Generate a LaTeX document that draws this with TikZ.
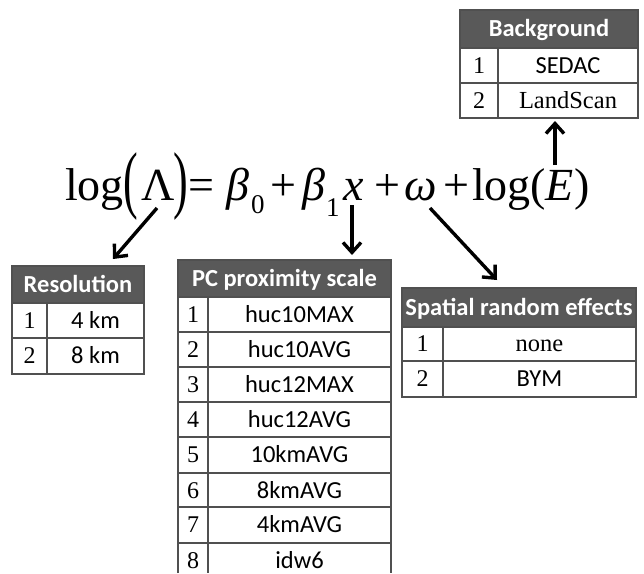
\documentclass[tikz,border=0pt]{standalone}
\usepackage{fontspec}
\setmainfont{Liberation Serif}
\newfontfamily\calib{Carlito}
\usetikzlibrary{arrows.meta}
\definecolor{hdr}{HTML}{595959}
\definecolor{gridc}{HTML}{505050}
\begin{document}
\begin{tikzpicture}[x=1pt,y=-1pt,
 eq/.style={anchor=base west,inner sep=0,font=\fontsize{46}{46}\selectfont},
 sub/.style={anchor=base west,inner sep=0,font=\fontsize{27}{27}\selectfont},
 big/.style={anchor=center,inner sep=0,font=\fontsize{44}{44}\selectfont},
 hd/.style={anchor=base,text=white,font=\calib\bfseries\fontsize{24.5}{24.5}\selectfont,inner sep=0},
 num/.style={anchor=base,font=\fontsize{24}{24}\selectfont,inner sep=0},
 cal/.style={anchor=base,font=\calib\fontsize{24.5}{24.5}\selectfont,inner sep=0},
 tms/.style={anchor=base,font=\fontsize{24.5}{24.5}\selectfont,inner sep=0},
 tb/.style={draw=gridc,line width=1.2pt},
 arr/.style={line width=3.4pt,-{Straight Barb[length=10pt,width=18pt,line width=3.4pt]}}
]
\useasboundingbox (0,0) rectangle (644,573);

% ---------- equation ----------
\node[eq] (log1) at (65,200) {log};
\node[big] (lp) at (131,187) {\scalebox{1}[1.7]{(}};
\node[eq] (lam) at (141,200) {Λ};
\node[big] (rp) at (181,187) {\scalebox{1}[1.7]{)}};
\node[eq] (eqs) at (188,200) {=};
\node[eq] (b0) at (226,200) {\itshape β};
\node[sub] (s0) at (251,213) {0};
\node[eq] (p1) at (270,200) {+};
\node[eq] (b1) at (302,200) {\itshape β};
\node[sub] (s1) at (326,216) {1};
\node[eq] (xx) at (343,200) {\itshape x};
\node[eq] (p2) at (374,200) {+};
\node[eq] (om) at (404,200) {\itshape ω};
\node[eq] (p3) at (443,200) {+};
\node[eq] (log2) at (472,200) {log(};
\node[eq] (ee) at (545,200) {\itshape E};
\node[eq] (rp2) at (574,200) {)};

% ---------- Background ----------
\fill[hdr] (460,10) rectangle (638,48);
\draw[tb] (460,10) rectangle (638,118);
\draw[tb] (460,48) -- (638,48) (460,83) -- (638,83) (498,48) -- (498,118);
\node[hd] (bg) at (549,36.5) {Background};
\node[num] (bg1n) at (479,73) {1}; \node[cal] (bg1) at (568,73) {SEDAC};
\node[num] (bg2n) at (479,108) {2}; \node[tms] (bg2) at (568,108) {LandScan};

% ---------- Resolution ----------
\fill[hdr] (12,266) rectangle (144,303);
\draw[tb] (12,266) rectangle (144,374);
\draw[tb] (12,303) -- (144,303) (12,338) -- (144,338) (47,303) -- (47,374);
\node[hd] (res) at (78,292) {Resolution};
\node[num] (r1n) at (29.5,328) {1}; \node[cal] (r1) at (95.5,328) {4 km};
\node[num] (r2n) at (29.5,363.5) {2}; \node[cal] (r2) at (95.5,363.5) {8 km};

% ---------- PC proximity scale ----------
\fill[hdr] (178,260) rectangle (391,297);
\draw[tb] (178,573) -- (178,260) -- (391,260) -- (391,573);
\draw[tb] (208,297) -- (208,573);
\foreach \y in {297,332,367,402,437,473,507,543} \draw[tb] (178,\y) -- (391,\y);
\node[hd] (pc) at (284.5,286) {PC proximity scale};
\foreach \n/\t/\y in {1/huc10MAX/297,2/huc10AVG/332,3/huc12MAX/367,4/huc12AVG/402,5/10kmAVG/437,6/8kmAVG/473,7/4kmAVG/507,8/idw6/543}{
  \node[num] (pc\n n) at (193,\y+25) {\n};
  \node[cal] (pc\n) at (299.5,\y+25) {\t};
}

% ---------- Spatial random effects ----------
\fill[hdr] (402,288) rectangle (636,327);
\draw[tb] (402,288) rectangle (636,397);
\draw[tb] (402,327) -- (636,327) (402,361) -- (636,361) (443,327) -- (443,397);
\node[hd] (sp) at (519,315) {Spatial random effects};
\node[num] (sp1n) at (422.5,351.5) {1}; \node[tms] (sp1) at (539.5,351.5) {none};
\node[num] (sp2n) at (422.5,386.5) {2}; \node[cal] (sp2) at (539.5,386.5) {BYM};

% ---------- arrows ----------
\coordinate (a1s) at (157,208); \coordinate (a1e) at (113,259);
\coordinate (a2s) at (352,205); \coordinate (a2e) at (352,255);
\coordinate (a3s) at (430,208); \coordinate (a3e) at (497,280);
\coordinate (a4s) at (555,165); \coordinate (a4e) at (555,121);
\draw[arr] (a1s) -- (a1e);
\draw[arr] (a2s) -- (a2e);
\draw[arr] (a3s) -- (a3e);
\draw[arr] (a4s) -- (a4e);
\end{tikzpicture}
\end{document}
